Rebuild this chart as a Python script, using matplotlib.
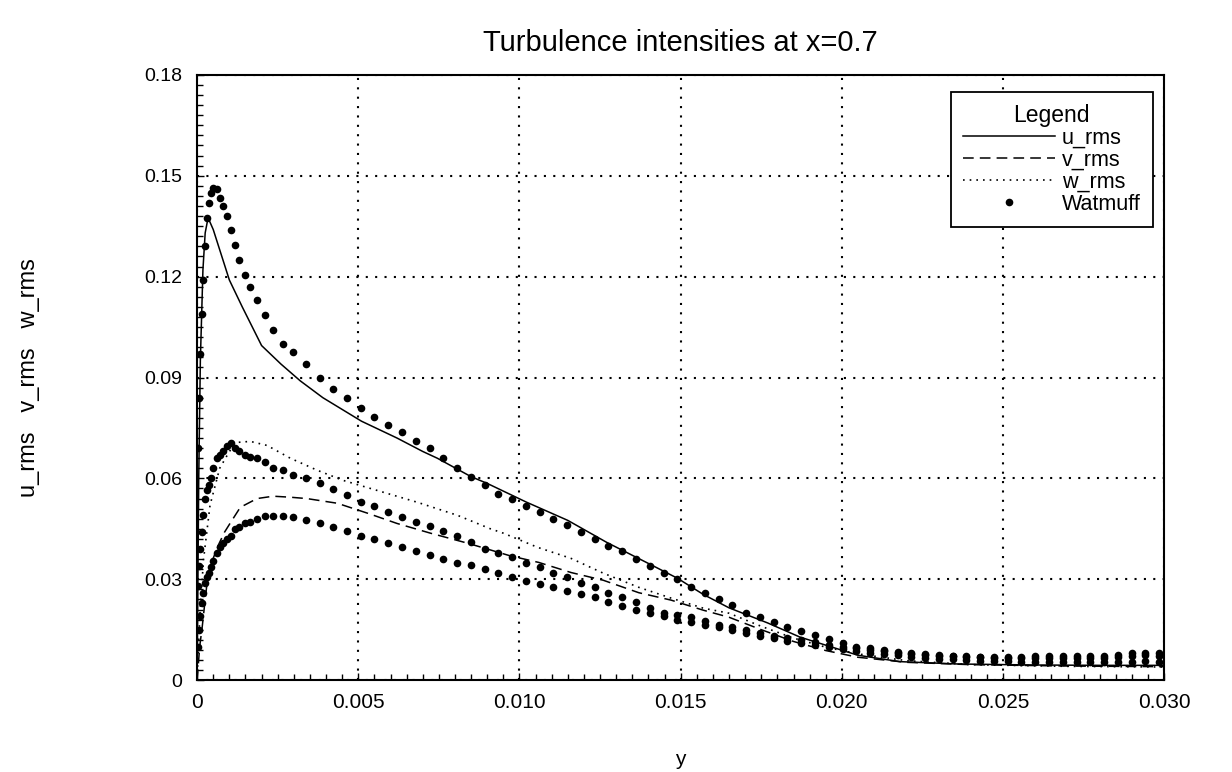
import numpy as np
import matplotlib
matplotlib.use("Agg")
import matplotlib.pyplot as plt
from matplotlib.ticker import MultipleLocator

plt.rcParams['font.family'] = ['Liberation Sans', 'DejaVu Sans']

# computed profiles (y in units of 1e-3)
u_line_y = [0, 0.05, 0.10, 0.18, 0.25, 0.34, 0.50, 0.70, 1.00, 1.40, 2.00, 2.60, 3.20, 3.90,
            5.10, 6.20, 7.00, 7.45, 8.50, 9.00, 10.2, 11.5, 12.7, 14.0, 14.9, 15.7, 16.5,
            17.7, 18.7, 19.7, 20.5, 21.8, 23.6, 26.0, 28.0, 30.0]
u_rms = [0, 0.060, 0.095, 0.122, 0.133, 0.1375, 0.134, 0.128, 0.119, 0.111, 0.0995, 0.094,
         0.089, 0.084, 0.077, 0.072, 0.068, 0.066, 0.0605, 0.0585, 0.053, 0.0475, 0.041,
         0.0347, 0.0303, 0.0255, 0.0215, 0.017, 0.0128, 0.0098, 0.0074, 0.0055, 0.0048,
         0.0045, 0.0044, 0.0044]

v_line_y = [0, 0.08, 0.16, 0.25, 0.31, 0.45, 0.65, 0.85, 1.02, 1.34, 1.86, 2.36, 2.89, 3.40,
            4.35, 5.30, 6.20, 7.24, 8.40, 9.70, 10.6, 11.6, 12.6, 13.7, 14.7, 15.7, 16.5,
            17.5, 18.5, 19.5, 20.5, 22.0, 24.0, 27.0, 30.0]
v_rms = [0, 0.010, 0.016, 0.024, 0.029, 0.035, 0.040, 0.044, 0.0466, 0.0514, 0.054, 0.0547,
         0.0544, 0.054, 0.0526, 0.0496, 0.0466, 0.0437, 0.0407, 0.037, 0.035, 0.032, 0.0297,
         0.026, 0.0238, 0.0208, 0.0187, 0.015, 0.0115, 0.0088, 0.0068, 0.0053, 0.0046,
         0.0042, 0.0040]

w_line_y = [0, 0.05, 0.10, 0.20, 0.40, 0.70, 1.00, 1.24, 1.65, 2.17, 2.89, 3.73, 4.53, 5.59,
            6.83, 8.08, 9.10, 9.50, 10.56, 11.6, 12.6, 13.7, 14.7, 15.7, 16.5, 17.5, 18.5,
            19.5, 20.5, 22.0, 24.0, 27.0, 30.0]
w_rms = [0, 0.012, 0.022, 0.036, 0.052, 0.063, 0.068, 0.0707, 0.071, 0.0698, 0.066, 0.0624,
         0.0594, 0.0564, 0.0529, 0.049, 0.045, 0.0437, 0.0395, 0.0362, 0.0318, 0.0276,
         0.0244, 0.0214, 0.0199, 0.016, 0.0125, 0.0098, 0.0078, 0.0058, 0.0046, 0.0041,
         0.0039]

# Watmuff measurements (y in units of 1e-3)
wat_y = [0.031, 0.062, 0.093, 0.14, 0.19, 0.25, 0.31, 0.36, 0.42, 0.50, 0.62, 0.71, 0.81,
         0.93, 1.06, 1.18, 1.30, 1.49, 1.65, 1.86, 2.11, 2.36, 2.67, 2.98, 3.39, 3.82,
         4.22, 4.65, 5.07, 5.50, 5.93, 6.36, 6.78, 7.21, 7.64, 8.06, 8.49, 8.92, 9.34,
         9.77, 10.20, 10.63, 11.05, 11.48, 11.91, 12.33, 12.76, 13.19, 13.61, 14.04,
         14.47, 14.90, 15.32, 15.75, 16.18, 16.60, 17.03, 17.46, 17.88, 18.31, 18.74,
         19.17, 19.59, 20.02, 20.45, 20.87, 21.30, 21.73, 22.15, 22.58, 23.01, 23.44,
         23.86, 24.29, 24.72, 25.14, 25.57, 26.00, 26.42, 26.85, 27.28, 27.71, 28.13,
         28.56, 28.99, 29.41, 29.84]
wat_u = [0.069, 0.084, 0.097, 0.109, 0.119, 0.129, 0.1375, 0.142, 0.145, 0.1465, 0.146,
         0.1435, 0.141, 0.138, 0.134, 0.1295, 0.125, 0.1205, 0.117, 0.113, 0.1087, 0.104,
         0.100, 0.0977, 0.094, 0.090,
         0.0867, 0.0838, 0.081, 0.0784, 0.076, 0.0737, 0.071, 0.069, 0.066, 0.063, 0.0605,
         0.058, 0.0555, 0.0538, 0.0517, 0.050, 0.048, 0.046, 0.044, 0.042, 0.040, 0.0383,
         0.036, 0.034, 0.0318, 0.030, 0.0276, 0.0258, 0.024, 0.0223, 0.020, 0.0187,
         0.0172, 0.0157, 0.0146, 0.0134, 0.0122, 0.011, 0.010, 0.0095, 0.0089, 0.0083,
         0.008, 0.0077, 0.0074, 0.0072, 0.0071, 0.0070, 0.0070, 0.0070, 0.0070, 0.0071,
         0.0071, 0.0072, 0.0072, 0.0072, 0.0073, 0.0074, 0.0080, 0.0082, 0.0080]
wat_w = [0.028, 0.034, 0.039, 0.044, 0.049, 0.054, 0.0565, 0.058, 0.060, 0.063, 0.066,
         0.067, 0.068, 0.0695, 0.0705, 0.069, 0.068, 0.067, 0.0665, 0.066, 0.0648, 0.063,
         0.0624, 0.061, 0.060, 0.0585,
         0.0567, 0.055, 0.053, 0.0517, 0.050, 0.0484, 0.047, 0.0457, 0.0443, 0.0428, 0.041,
         0.039, 0.0377, 0.0365, 0.0347, 0.0336, 0.032, 0.0306, 0.0288, 0.0276, 0.0258,
         0.0246, 0.0232, 0.0214, 0.020, 0.0193, 0.0187, 0.0175, 0.0165, 0.0157, 0.0149,
         0.014, 0.0132, 0.0125, 0.0118, 0.0112, 0.0105, 0.010, 0.0095, 0.009, 0.0086,
         0.0082, 0.0079, 0.0076, 0.0073, 0.0071, 0.0069, 0.0068, 0.0067, 0.0066, 0.0066,
         0.0066, 0.0066, 0.0066, 0.0066, 0.0067, 0.0067, 0.0068, 0.0072, 0.0074, 0.0072]
wat_v = [0.010, 0.015, 0.019, 0.023, 0.026, 0.029, 0.0306, 0.032, 0.0336, 0.0355, 0.0377,
         0.0395, 0.0407, 0.042, 0.043, 0.045, 0.0455, 0.0466, 0.047, 0.048, 0.0487, 0.0487,
         0.0487, 0.0484, 0.0475, 0.0466,
         0.0454, 0.0443, 0.043, 0.0419, 0.0407, 0.0395, 0.0383, 0.0371, 0.036, 0.0347,
         0.0341, 0.033, 0.0318, 0.0306, 0.0294, 0.0285, 0.0276, 0.0264, 0.0255, 0.0246,
         0.0232, 0.022, 0.0208, 0.0199, 0.019, 0.018, 0.0172, 0.0165, 0.0157, 0.0148, 0.014,
         0.0132, 0.0124, 0.0117, 0.011, 0.0104, 0.0098, 0.0092, 0.0087, 0.0082, 0.0078,
         0.0074, 0.0070, 0.0067, 0.0064, 0.0062, 0.0060, 0.0058, 0.0057, 0.0056, 0.0055,
         0.0055, 0.0054, 0.0054, 0.0054, 0.0054, 0.0054, 0.0054, 0.0055, 0.0056, 0.0055]

xticks = [0, 0.005, 0.010, 0.015, 0.020, 0.025, 0.030]
xtick_labels = ['0', '0.005', '0.010', '0.015', '0.020', '0.025', '0.030']
yticks = [0, 0.03, 0.06, 0.09, 0.12, 0.15, 0.18]
ytick_labels = ['0', '0.03', '0.06', '0.09', '0.12', '0.15', '0.18']

fig = plt.figure(figsize=(12.32, 7.72), dpi=100)
ax = fig.add_axes([0.160, 0.119, 0.785, 0.784])

ax.plot(np.array(u_line_y) * 1e-3, u_rms, color='black', lw=1.1, label='u_rms')
ax.plot(np.array(v_line_y) * 1e-3, v_rms, color='black', lw=1.1,
        linestyle=(0, (7, 4)), label='v_rms')
ax.plot(np.array(w_line_y) * 1e-3, w_rms, color='black', lw=1.2,
        linestyle=(0, (1, 3)), label='w_rms')

wy = np.array(wat_y) * 1e-3
ax.plot(wy, wat_u, 'o', color='black', ms=5.5, mew=0, label='Watmuff')
ax.plot(wy, wat_w, 'o', color='black', ms=5.5, mew=0)
ax.plot(wy, wat_v, 'o', color='black', ms=5.5, mew=0)

ax.set_xlim(0, 0.030)
ax.set_ylim(0, 0.18)
ax.set_xticks(xticks)
ax.set_xticklabels(xtick_labels)
ax.set_yticks(yticks)
ax.set_yticklabels(ytick_labels)
ax.xaxis.set_minor_locator(MultipleLocator(0.0005))
ax.yaxis.set_minor_locator(MultipleLocator(0.003))
ax.tick_params(which='both', direction='in', top=False, right=False)
ax.tick_params(axis='x', labelsize=15, pad=9)
ax.tick_params(axis='y', labelsize=14, pad=11)
ax.tick_params(which='major', length=5, width=1)
ax.tick_params(which='minor', length=4, width=1)

ax.grid(True, which='major', color='black', lw=1.5, linestyle=(0, (1, 3.5)))
for s in ax.spines.values():
    s.set_linewidth(1.5)

ax.set_title('Turbulence intensities at x=0.7', fontsize=21, pad=17)
ax.set_xlabel('y', fontsize=15)
ax.xaxis.set_label_coords(0.5, -0.115)
ax.set_ylabel('u_rms   v_rms   w_rms', fontsize=17)
ax.yaxis.set_label_coords(-0.162, 0.5)

leg = ax.legend(title='Legend', loc='upper right', bbox_to_anchor=(0.988, 0.972),
                borderaxespad=0, fontsize=15.5, title_fontsize=16.5, fancybox=False,
                edgecolor='black', framealpha=1, handlelength=4.3, labelspacing=0.05,
                numpoints=1, borderpad=0.55, handletextpad=0.3)
leg.get_frame().set_linewidth(1.3)

fig.savefig('out.png', dpi=100)
